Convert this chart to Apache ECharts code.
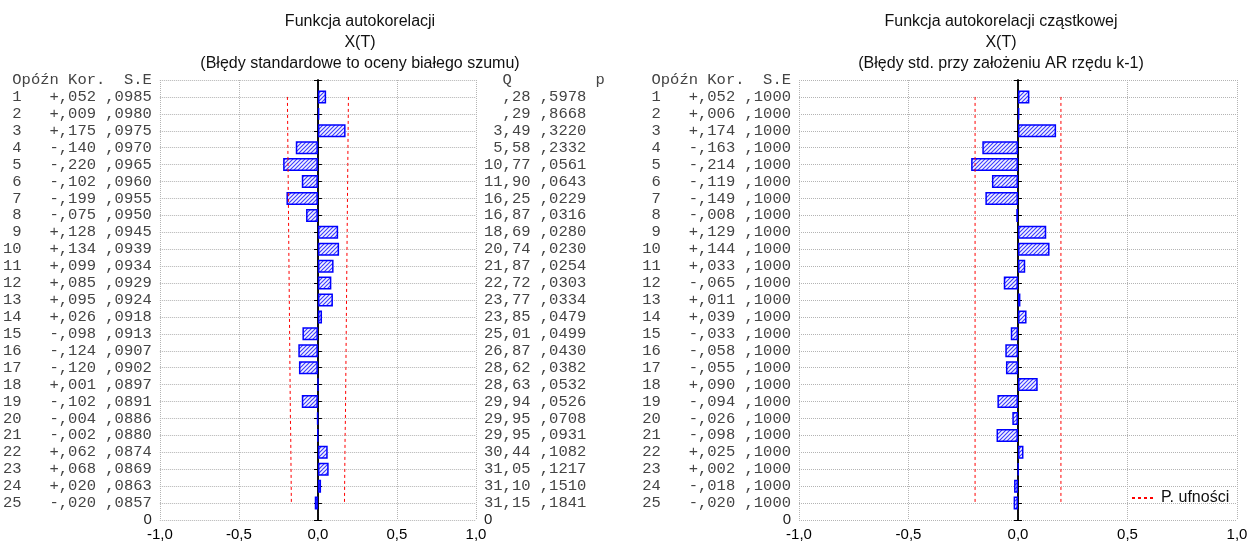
<!DOCTYPE html>
<html>
<head>
<meta charset="utf-8">
<script src="https://cdn.jsdelivr.net/npm/echarts@6/dist/echarts.min.js"></script>
<style>
html,body{margin:0;padding:0;background:#fff;}
#chart{width:1254px;height:546px;}
</style>
</head>
<body>
<div id="chart"></div>
<script>
// ---- data ----
const lags = [1,2,3,4,5,6,7,8,9,10,11,12,13,14,15,16,17,18,19,20,21,22,23,24,25];
const acf = [0.052,0.009,0.175,-0.140,-0.220,-0.102,-0.199,-0.075,0.128,0.134,0.099,0.085,0.095,0.026,-0.098,-0.124,-0.120,0.001,-0.102,-0.004,-0.002,0.062,0.068,0.020,-0.020];
const acfSE = [0.0985,0.0980,0.0975,0.0970,0.0965,0.0960,0.0955,0.0950,0.0945,0.0939,0.0934,0.0929,0.0924,0.0918,0.0913,0.0907,0.0902,0.0897,0.0891,0.0886,0.0880,0.0874,0.0869,0.0863,0.0857];
const qStat = [0.28,0.29,3.49,5.58,10.77,11.90,16.25,16.87,18.69,20.74,21.87,22.72,23.77,23.85,25.01,26.87,28.62,28.63,29.94,29.95,29.95,30.44,31.05,31.10,31.15];
const pVal = [0.5978,0.8668,0.3220,0.2332,0.0561,0.0643,0.0229,0.0316,0.0280,0.0230,0.0254,0.0303,0.0334,0.0479,0.0499,0.0430,0.0382,0.0532,0.0526,0.0708,0.0931,0.1082,0.1217,0.1510,0.1841];
const acfConf = [0.193,0.192,0.191,0.190,0.189,0.188,0.187,0.186,0.185,0.184,0.183,0.182,0.181,0.180,0.179,0.178,0.177,0.176,0.175,0.174,0.172,0.171,0.170,0.169,0.168];
const pacf = [0.052,0.006,0.174,-0.163,-0.214,-0.119,-0.149,-0.008,0.129,0.144,0.033,-0.065,0.011,0.039,-0.033,-0.058,-0.055,0.090,-0.094,-0.026,-0.098,0.025,0.002,-0.018,-0.020];
const pacfSE = [0.1000,0.1000,0.1000,0.1000,0.1000,0.1000,0.1000,0.1000,0.1000,0.1000,0.1000,0.1000,0.1000,0.1000,0.1000,0.1000,0.1000,0.1000,0.1000,0.1000,0.1000,0.1000,0.1000,0.1000,0.1000];
const pacfConf = [0.196,0.196,0.196,0.196,0.196,0.196,0.196,0.196,0.196,0.196,0.196,0.196,0.196,0.196,0.196,0.196,0.196,0.196,0.196,0.196,0.196,0.196,0.196,0.196,0.196];
const xTicks = [-1,-0.5,0,0.5,1];
const leftHeader = ' Opóźn Kor.  S.E';
const rightHeader = '  Q         p';
const confName = 'P. ufności';
const titlesL = ['Funkcja autokorelacji','X(T)','(Błędy standardowe to oceny białego szumu)'];
const titlesR = ['Funkcja autokorelacji cząstkowej','X(T)','(Błędy std. przy założeniu AR rzędu k-1)'];

// ---- helpers ----
const cats = ['hdr'].concat(lags.map(String)).concat(['0']);
function fmtKor(v){ return (v>=0?'+':'-') + ',' + String(Math.round(Math.abs(v)*1000)).padStart(3,'0'); }
function fmtSE(v){ return ',' + String(Math.round(v*10000)).padStart(4,'0'); }
function fmtQ(v){ let s=v.toFixed(2).replace('.',','); if(s.startsWith('0,')) s=s.slice(1); return s.padStart(5,' '); }
function leftLabel(kor, se){
  return function(val, idx){
    if(idx===0) return leftHeader;
    if(idx===cats.length-1) return '{z|0}';
    const i = idx-1;
    return String(lags[i]).padStart(2,' ') + '   ' + fmtKor(kor[i]) + ' ' + fmtSE(se[i]);
  };
}
function rightLabel(val, idx){
  if(idx===0) return rightHeader;
  if(idx===cats.length-1) return '{z|0}';
  const i = idx-1;
  return fmtQ(qStat[i]) + ' ' + fmtSE(pVal[i]);
}
function pad(arr){ return ['-'].concat(arr).concat(['-']); }

// hatch pattern
const pc = document.createElement('canvas');
pc.width = 4; pc.height = 4;
const g = pc.getContext('2d');
g.fillStyle = '#f4f4ff'; g.fillRect(0,0,4,4);
g.strokeStyle = '#3a3aff'; g.lineWidth = 1.1;
g.beginPath();
g.moveTo(-1,5); g.lineTo(5,-1);
g.moveTo(-1,1); g.lineTo(1,-1);
g.moveTo(3,5); g.lineTo(5,3);
g.stroke();
const hatch = {image: pc, repeat: 'repeat'};

const monoFont = 'Liberation Mono';
const sansFont = 'Liberation Sans';
const gridLine = {show:true, lineStyle:{type:'dotted', color:'#b4b4b4', width:1}};

function xAxes(gi){
  return [
    {gridIndex:gi, type:'value', min:xTicks[0], max:xTicks[xTicks.length-1], interval:0.5, position:'bottom',
     axisLine:{lineStyle:{color:'#000', width:1.5}},
     axisTick:{inside:true, length:4, lineStyle:{color:'#000'}},
     axisLabel:{formatter:v=>v.toFixed(1).replace('.',','), fontFamily:sansFont, fontSize:15, color:'#000', margin:7},
     splitLine:gridLine},
    {gridIndex:gi, type:'value', min:xTicks[0], max:xTicks[xTicks.length-1], interval:0.5, position:'top',
     axisLine:{lineStyle:{color:'#000', width:1.5}},
     axisTick:{inside:true, length:4, lineStyle:{color:'#000'}},
     axisLabel:{show:false}, splitLine:{show:false}}
  ];
}
function yAxis(gi, pos, fmt, showSplit){
  return {gridIndex:gi, type:'category', data:cats, inverse:true, boundaryGap:false, position:pos,
    axisLine:{lineStyle:{color:'#000', width:1.5}},
    axisTick:{inside:true, length:4, interval:0, lineStyle:{color:'#000'}},
    axisLabel: fmt ? {show:true, interval:0, formatter:fmt, margin:8, fontFamily:monoFont, fontSize:15.5, color:'#444',
      rich:{z:{fontFamily:sansFont, fontSize:15, color:'#222'}}} : {show:false},
    splitLine: showSplit ? Object.assign({interval:0}, gridLine) : {show:false}
  };
}

const chart = echarts.init(document.getElementById('chart'), null, {renderer:'canvas'});
const option = {
  animation:false,
  backgroundColor:'#fff',
  title:[
    {text:titlesL.join('\n'), left:355, top:6, textAlign:'center',
     textStyle:{fontFamily:sansFont, fontSize:16, fontWeight:'normal', color:'#111', lineHeight:21}},
    {text:titlesR.join('\n'), left:996, top:6, textAlign:'center',
     textStyle:{fontFamily:sansFont, fontSize:16, fontWeight:'normal', color:'#111', lineHeight:21}}
  ],
  legend:{data:[confName], left:1126, top:485, itemWidth:24, itemHeight:10, itemGap:5,
    itemStyle:{opacity:0},
    textStyle:{fontFamily:sansFont, fontSize:16, color:'#111'}},
  grid:[
    {left:159, right:1254-476, top:80, height:440},
    {left:799, right:1254-1237, top:80, height:440}
  ],
  xAxis: xAxes(0).concat(xAxes(1)),
  yAxis:[
    yAxis(0,'left',leftLabel(acf, acfSE), true),
    yAxis(0,'right',rightLabel, false),
    yAxis(1,'left',leftLabel(pacf, pacfSE), true),
    yAxis(1,'right',null, false)
  ],
  series:[
    {type:'bar', xAxisIndex:0, yAxisIndex:0, data:pad(acf), barWidth:13,
     itemStyle:{color:hatch, borderColor:'#0000ff', borderWidth:1.5}},
    {type:'line', name:confName, xAxisIndex:0, yAxisIndex:0, data:pad(acfConf), symbol:'none',
     lineStyle:{color:'#ff0000', width:1, type:[3,3]}, itemStyle:{color:'#ff0000'}},
    {type:'line', name:confName, xAxisIndex:0, yAxisIndex:0, data:pad(acfConf.map(v=>-v)), symbol:'none',
     lineStyle:{color:'#ff0000', width:1, type:[3,3]}, itemStyle:{color:'#ff0000'}},
    {type:'bar', xAxisIndex:2, yAxisIndex:2, data:pad(pacf), barWidth:13,
     itemStyle:{color:hatch, borderColor:'#0000ff', borderWidth:1.5}},
    {type:'line', name:confName, xAxisIndex:2, yAxisIndex:2, data:pad(pacfConf), symbol:'none',
     lineStyle:{color:'#ff0000', width:1, type:[3,3]}, itemStyle:{color:'#ff0000'}},
    {type:'line', name:confName, xAxisIndex:2, yAxisIndex:2, data:pad(pacfConf.map(v=>-v)), symbol:'none',
     lineStyle:{color:'#ff0000', width:1, type:[3,3]}, itemStyle:{color:'#ff0000'}}
  ]
};
chart.setOption(option);
</script>
</body>
</html>
